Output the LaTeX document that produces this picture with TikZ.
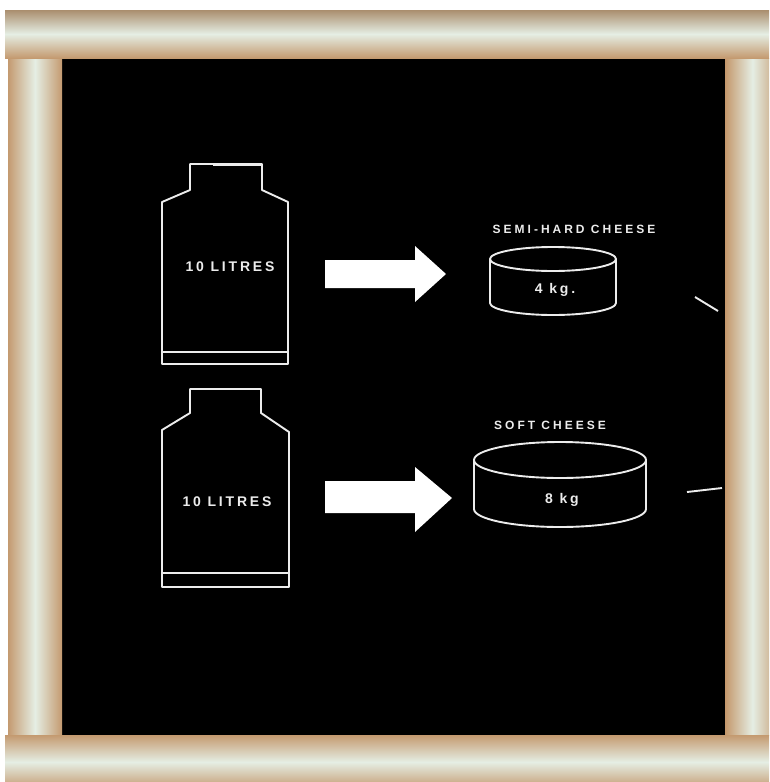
\documentclass[tikz,border=0pt]{standalone}
\usepackage{fontspec}
\usepackage{tikz}
\newfontfamily\chalkfont[LetterSpace=20]{Liberation Sans}
\newfontfamily\chalksmall[LetterSpace=25]{Liberation Sans}

\definecolor{woodtan}{RGB}{196,154,112}
\definecolor{wooddark}{RGB}{170,142,110}
\definecolor{woodpale}{RGB}{229,238,228}
\definecolor{chalk}{RGB}{236,236,236}

\tikzset{
    chalkline/.style={draw=chalk, line width=1.9pt, line join=round},
    chalktext/.style={text=chalk, font=\chalkfont\bfseries\fontsize{14}{14}\selectfont, inner sep=0pt},
    chalkhead/.style={text=chalk, font=\chalksmall\bfseries\fontsize{12}{12}\selectfont, inner sep=0pt},
    blockarrow/.style={fill=white, draw=none}
}

\begin{document}
\begin{tikzpicture}[x=1pt, y=-1pt]
            \useasboundingbox (0,0) rectangle (769,782);
            \clip (0,0) rectangle (769,782);
            \fill[white] (0,0) rectangle (769,782);

            % board and wooden frame
            \fill[black] (60,56) rectangle (727,735);
            \shade[left color=woodtan, right color=woodtan, middle color=woodpale] (8,58) rectangle (62,735);
            \shade[left color=woodtan!90!brown, right color=woodtan, middle color=woodpale] (725,58) rectangle (780,735);
            \shade[top color=wooddark, bottom color=woodtan, middle color=woodpale] (5,10) rectangle (769,58);
            \shade[top color=woodtan, bottom color=woodtan, middle color=woodpale] (5,735) rectangle (769,789);

            % milk cans
            \draw[chalkline] (162,364) -- (162,202) -- (190,190) -- (190,164) -- (262,164)
                -- (262,190) -- (288,202) -- (288,364) -- cycle;
            \draw[chalkline] (162,352) -- (288,352);
            \draw[chalkline, line width=2.6pt] (213,165) -- (262,165);
            \node[chalktext] (litresA) at (230,267) {10 LITRES};

            \draw[chalkline] (162,587) -- (162,430) -- (190,413) -- (190,389) -- (261,389)
                -- (261,413) -- (289,432) -- (289,587) -- cycle;
            \draw[chalkline] (162,573) -- (289,573);
            \node[chalktext] (litresB) at (227,502) {10 LITRES};

            % arrows
            \fill[blockarrow] (325,260) -- (415,260) -- (415,246) -- (446,274) -- (415,302)
                -- (415,288) -- (325,288) -- cycle;
            \fill[blockarrow] (325,481) -- (415,481) -- (415,467) -- (452,498) -- (415,532)
                -- (415,513) -- (325,513) -- cycle;

            % cheeses
            \node[chalkhead] (semihard) at (574,229) {SEMI-HARD CHEESE};
            \draw[chalkline] (553,259) ellipse[x radius=63pt, y radius=12pt];
            \draw[chalkline] (490,259) -- (490,303)
                arc[start angle=180, end angle=360, x radius=63pt, y radius=12pt] -- (616,259);
            \node[chalktext] (kgA) at (555,290) {4 kg.};

            \node[chalkhead] (soft) at (550,425) {SOFT CHEESE};
            \draw[chalkline] (560,460) ellipse[x radius=86pt, y radius=18pt];
            \draw[chalkline] (474,460) -- (474,509)
                arc[start angle=180, end angle=360, x radius=86pt, y radius=18pt] -- (646,460);
            \node[chalktext] (kgB) at (562,500) {8 kg};

            % lines running off the board
            \coordinate (tickA) at (695,297);
            \coordinate (tickAend) at (718,311);
            \coordinate (tickB) at (687,492);
            \coordinate (tickBend) at (722,488);
            \draw[chalkline] (tickA) -- (tickAend);
            \draw[chalkline] (tickB) -- (tickBend);
        \end{tikzpicture}
\end{document}
